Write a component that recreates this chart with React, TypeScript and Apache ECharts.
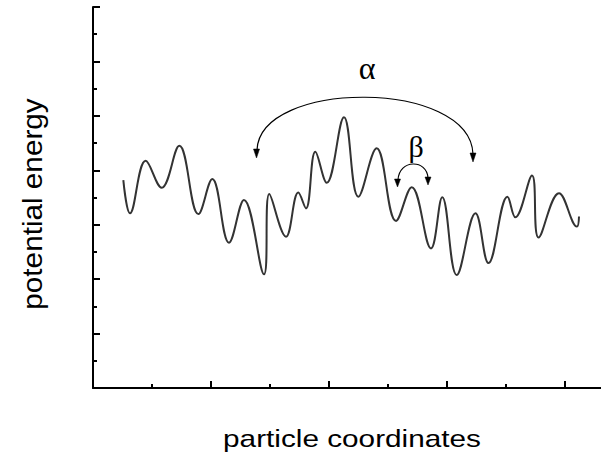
import React, { useEffect, useRef } from "react";
import * as echarts from "echarts";

// particle coordinate positions (x) and potential energy (y), read at extrema
const coordX = [
  0.514, 0.627, 0.893, 1.164, 1.463, 1.785, 2.022, 2.305, 2.559, 2.898, 2.988,
  3.271, 3.48, 3.61, 3.768, 3.961, 4.254, 4.497, 4.808, 5.136, 5.402, 5.729,
  5.92, 6.164, 6.483, 6.703, 7.025, 7.158, 7.441, 7.551, 7.898, 8.203, 8.237,
];
const energyY = [
  7.64, 6.42, 8.35, 7.36, 8.9, 6.39, 7.68, 5.34, 6.91, 4.18, 7.13, 5.56, 7.18,
  6.6, 8.68, 7.54, 9.95, 7.03, 8.81, 6.14, 7.38, 5.13, 7.01, 4.15, 6.42, 4.59,
  7.03, 6.27, 7.81, 5.53, 7.16, 5.93, 6.3,
];
const xTitle = "particle coordinates";
const yTitle = "potential energy";
const alphaLabel = "α";
const betaLabel = "β";

export default function App() {
  const ref = useRef<HTMLDivElement>(null);
  useEffect(() => {
    document.body.style.margin = "0";
    document.body.style.overflow = "hidden";
    if (!ref.current) return;
    const chart = echarts.init(ref.current, null, { renderer: "svg" });
    const data = coordX.map((x, i) => [x, energyY[i]]);
    const axisLine = { show: true, lineStyle: { color: "#000", width: 2 } };
    const arrowStyle = { fill: "#000", stroke: "#000", lineWidth: 0.5 };
    chart.setOption({
      animation: false,
      backgroundColor: "#fff",
      grid: {
        left: 93,
        top: 7,
        width: 590,
        height: 381,
        containLabel: false,
        outerBoundsMode: "none",
      },
      xAxis: {
        type: "value",
        min: 0,
        max: 10,
        interval: 2,
        axisLine,
        axisTick: { show: true, inside: true, length: 7, lineStyle: { color: "#000", width: 2 } },
        minorTick: { show: true, splitNumber: 2, length: 4, lineStyle: { color: "#000", width: 2 } },
        axisLabel: { show: false },
        splitLine: { show: false },
      },
      yAxis: {
        type: "value",
        min: 0,
        max: 14,
        interval: 2,
        axisLine,
        axisTick: { show: true, inside: true, length: 7, lineStyle: { color: "#000", width: 2 } },
        minorTick: { show: true, splitNumber: 2, length: 4, lineStyle: { color: "#000", width: 2 } },
        axisLabel: { show: false },
        splitLine: { show: false },
      },
      series: [
        {
          type: "line",
          data,
          smooth: 0.4,
          showSymbol: false,
          symbol: "none",
          lineStyle: { color: "#333", width: 2 },
        },
      ],
      graphic: [
        {
          type: "text",
          x: 352,
          y: 439,
          scaleX: 1.24,
          style: {
            text: xTitle,
            fontSize: 24,
            fontFamily: "Liberation Sans, Arial, sans-serif",
            fill: "#000",
            align: "center",
            verticalAlign: "middle",
          },
        },
        {
          type: "text",
          x: 32,
          y: 204,
          rotation: Math.PI / 2,
          scaleX: 1.1,
          style: {
            text: yTitle,
            fontSize: 27,
            fontFamily: "Liberation Sans, Arial, sans-serif",
            fill: "#000",
            align: "center",
            verticalAlign: "middle",
          },
        },
        {
          type: "text",
          x: 367,
          y: 68,
          style: {
            text: alphaLabel,
            fontSize: 32,
            fontFamily: "Liberation Serif, Times New Roman, serif",
            fill: "#000",
            align: "center",
            verticalAlign: "middle",
          },
        },
        {
          type: "text",
          x: 416,
          y: 146,
          style: {
            text: betaLabel,
            fontSize: 30,
            fontFamily: "Liberation Serif, Times New Roman, serif",
            fill: "#000",
            align: "center",
            verticalAlign: "middle",
          },
        },
        {
          type: "bezierCurve",
          shape: { x1: 257, y1: 150, cpx1: 260, cpy1: 79, cpx2: 470, cpy2: 79, x2: 473, y2: 154 },
          style: { stroke: "#000", lineWidth: 1.2, fill: "none" },
        },
        {
          type: "polygon",
          shape: { points: [[253.5, 149], [259.5, 149], [256.5, 158]] },
          style: arrowStyle,
        },
        {
          type: "polygon",
          shape: { points: [[470, 153], [476, 153], [473, 162]] },
          style: arrowStyle,
        },
        {
          type: "bezierCurve",
          shape: { x1: 398, y1: 180, cpx1: 399, cpy1: 159, cpx2: 427, cpy2: 159, x2: 428, y2: 178 },
          style: { stroke: "#000", lineWidth: 1.2, fill: "none" },
        },
        {
          type: "polygon",
          shape: { points: [[394.5, 179], [400.5, 179], [397.5, 187]] },
          style: arrowStyle,
        },
        {
          type: "polygon",
          shape: { points: [[425, 177], [431, 177], [428, 185]] },
          style: arrowStyle,
        },
      ],
    });
    return () => chart.dispose();
  }, []);
  return <div ref={ref} style={{ width: 601, height: 456 }} />;
}
